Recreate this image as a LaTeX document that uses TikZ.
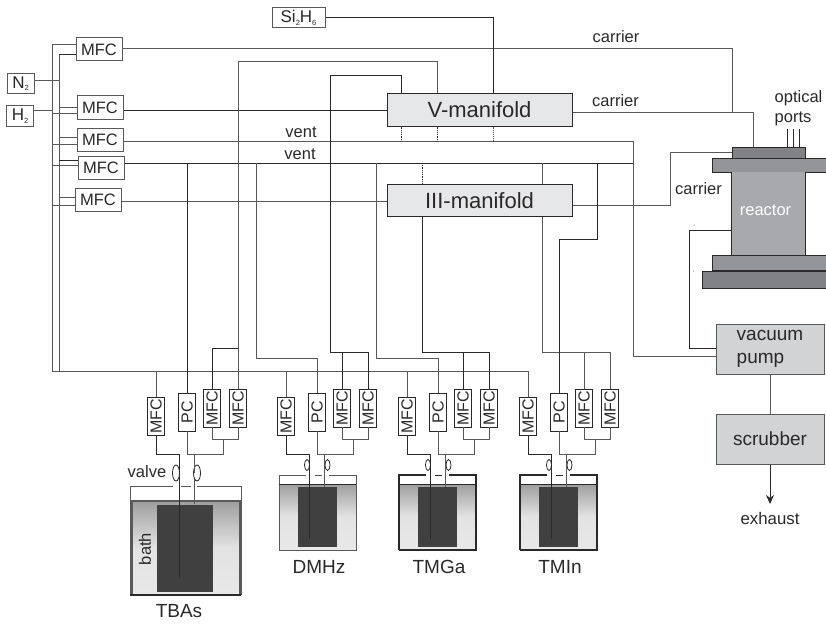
\documentclass[tikz,border=0pt]{standalone}
\usepackage{fontspec}
\setmainfont{Liberation Sans}
\usetikzlibrary{arrows.meta,shapes.geometric}
\definecolor{pipegray}{HTML}{58595B}
\definecolor{pipedark}{HTML}{2B2829}
\definecolor{mfdfill}{HTML}{E6E7E8}
\definecolor{pumpfill}{HTML}{D1D3D4}
\definecolor{flangefill}{HTML}{939598}
\definecolor{capfill}{HTML}{808285}
\definecolor{bodyfill}{HTML}{A7A9AC}
\definecolor{ampfill}{HTML}{404041}
\newcommand{\gassub}[1]{\raisebox{-2.5pt}{\fontsize{7.5}{7.5}\selectfont #1}}
\tikzset{
    pipe/.style={draw=pipegray,line width=0.95pt},
    pipedk/.style={draw=pipedark,line width=0.8pt},
    lab/.style={inner sep=0pt,font=\fontsize{16.5}{20}\selectfont,text=pipedark},
    srclab/.style={lab,font=\fontsize{19}{22}\selectfont},
    hbox/.style={draw=pipegray,line width=1pt,fill=white,inner sep=0pt,minimum width=46,minimum height=23,font=\fontsize{16.5}{20}\selectfont,text=pipedark},
    gasbox/.style={hbox,minimum width=27,minimum height=20,font=\fontsize{17}{20}\selectfont},
    vbox/.style={draw=pipedark,line width=0.9pt,fill=white,inner sep=0pt,minimum width=17,minimum height=38,font=\fontsize{16}{20}\selectfont,text=pipedark},
    manifold/.style={draw=pipedark,line width=1pt,fill=mfdfill,inner sep=0pt,minimum width=185,minimum height=32,font=\fontsize{22}{24}\selectfont,text=pipedark},
    plant/.style={draw=pipegray,line width=1pt,fill=pumpfill,inner sep=0pt,minimum width=108,minimum height=50,text=pipedark,align=left},
    flange/.style={draw=pipedark,line width=0.8pt,fill=flangefill,inner sep=0pt},
    valve/.style={ellipse,draw=pipedark,line width=0.8pt,fill=white,inner sep=0pt},
    lid/.style={draw=pipedark,line width=1pt},
    bath/.style={top color=black!38,bottom color=black!9,middle color=black!11},
    amp/.style={fill=ampfill},
}
\begin{document}
\begin{tikzpicture}[x=1pt,y=-1pt]
    \useasboundingbox (0,0) rectangle (826,623);

    \node[gasbox] (nitrogen) at (20.5,83.5) {N\gassub{2}};
    \node[gasbox] (hydrogen) at (20,116) {H\gassub{2}};
    \node[gasbox,minimum width=53] (silane) at (298.5,18) {Si\gassub{2}H\gassub{6}};
    \node[hbox] (mfcA) at (99,49.5) {MFC};
    \node[hbox] (mfcB) at (100,107.5) {MFC};
    \node[hbox] (mfcC) at (100,140) {MFC};
    \node[hbox] (mfcD) at (101,167.5) {MFC};
    \node[hbox] (mfcE) at (98,199.5) {MFC};
    \node[manifold] (vmf) at (479.5,110) {V-manifold};
    \node[manifold] (iiimf) at (479.5,200.5) {III-manifold};

    \coordinate (busA) at (52,44);
    \coordinate (busB) at (59,54);
    \coordinate (busEnd) at (528,371);
    \coordinate (ventA) at (633,141);
    \coordinate (ventB) at (633,163);

    % reactor stack
    \node[flange,minimum width=73,minimum height=11,fill=capfill] (cap) at (768.5,152.5) {};
    \node[flange,minimum width=114,minimum height=14] (topfl) at (769,165) {};
    \node[flange,minimum width=73,minimum height=83,fill=bodyfill,draw=none] (body) at (768.5,213.5) {};
    \draw[draw=pipedark,line width=0.8pt] (body.north west) -- (body.south west) (body.north east) -- (body.south east);
    \node[flange,minimum width=114,minimum height=15] (botfl) at (769,262.5) {};
    \node[flange,minimum width=124,minimum height=17,fill=capfill] (basefl) at (764,279.5) {};
    \node[lab,text=white] (reactor) at (765.5,210) {reactor};
    \node[plant,font=\fontsize{19}{23}\selectfont] (pump) at (770,349) {vacuum\\pump};
    \node[plant,font=\fontsize{19}{22}\selectfont] (scrub) at (770,439) {scrubber};
    \coordinate (exhaustend) at (770,504);
    \node[lab,font=\fontsize{16.8}{20}\selectfont] (exhaust) at (770,518) {exhaust};
    \node[lab,align=left] (ports) at (798.5,108) {optical\\ports};
    \draw[pipedk] (787,129) -- (787,0 |- cap.north);
    \draw[pipedk] (793,129) -- (793,0 |- cap.north);
    \draw[pipedk] (799,129) -- (799,0 |- cap.north);
    \fill[pipegray] (694,225) circle (0.5);
    \fill[pipegray] (693.5,271) circle (0.5);

    % source lines
    \draw[pipe] (busA) -- (52,371) -- (busEnd);
    \draw[pipe] (busB) -- (59,371);
    \draw[pipe] (busA) -- (mfcA.west |- busA);
    \draw[pipedk] (busB) -- (mfcA.west |- busB);
    \draw[pipe] (nitrogen.east |- 0,80) -- (59,80);
    \draw[pipe] (hydrogen.east |- 0,110) -- (52,110);
    \draw[pipe] (59,107) -- (mfcB.west |- 0,107);
    \draw[pipe] (52,113) -- (mfcB.west |- 0,113);
    \draw[pipe] (59,137) -- (mfcC.west |- 0,137);
    \draw[pipe] (52,144) -- (mfcC.west |- 0,144);
    \draw[pipedk] (59,160) -- (mfcD.west |- 0,160);
    \draw[pipe] (52,165) -- (mfcD.west |- 0,165);
    \draw[pipe] (59,197) -- (mfcE.west |- 0,197);
    \draw[pipe] (52,205) -- (mfcE.west |- 0,205);

    \draw[pipe] (mfcA.east |- 0,48) -- (732,48) -- (732,112);
    \draw[pipe] (vmf.east |- 0,112) -- (753,112) -- (753,0 |- cap.north);
    \draw[pipedk] (mfcB.east |- 0,110) -- (vmf.west |- 0,110);
    \draw[pipe] (mfcC.east |- 0,141) -- (ventA) -- (633,356) -- (pump.west |- 0,356);
    \draw[pipedk] (mfcD.east |- 0,163) -- (ventB);
    \draw[pipe] (mfcE.east |- 0,201) -- (iiimf.west |- 0,201);
    \draw[pipedk] (silane.east |- 0,17) -- (493,17) -- (493,0 |- vmf.north);
    \draw[pipe] (iiimf.east |- 0,205) -- (670,205) -- (670,152) -- (cap.west |- 0,152);
    \draw[pipedk] (body.west |- 0,230) -- (689,230) -- (689,348) -- (pump.west |- 0,348);
    \draw[pipe] (pump) -- (scrub);
    \draw[pipedk,-{Stealth[length=9pt,width=8pt]}] (scrub) -- (exhaustend);

    % vent and manifold dots
    \draw[pipedk,densely dotted] (401,0 |- vmf.south) -- (401,141);
    \draw[pipedk,densely dotted] (437,0 |- vmf.south) -- (437,141);
    \draw[pipe,densely dotted] (493,0 |- vmf.south) -- (493,141);
    \draw[pipedk,densely dotted] (422,163) -- (422,0 |- iiimf.north);

    \node[lab] (carrierA) at (616,37) {carrier};
    \node[lab] (carrierB) at (615.5,101) {carrier};
    \node[lab] (carrierC) at (698.5,189) {carrier};
    \node[lab] (ventlabA) at (301,132) {vent};
    \node[lab] (ventlabB) at (300,154) {vent};

    % TBAs bubbler
    \draw[lid,draw=pipegray] (130,595) -- (130,486) -- (173,486);
    \draw[lid,draw=pipegray] (181,486) -- (191,486);
    \draw[lid,draw=pipegray] (197,486) -- (241,486) -- (241,595);
    \shade[bath] (132,501) rectangle (240,594);
    \draw[pipegray,line width=2pt] (132,594) -- (132,501) -- (240,501) -- (240,594);
    \draw[pipedark,line width=1.2pt] (130,595) -- (241,595);
    \fill[amp] (157,505) rectangle (213,592);
    \node[lab] (valvelab) at (147,472) {valve};
    \node[lab,rotate=90] (bathlab) at (145,549) {bath};
    \node[srclab] (tbas) at (179,611) {TBAs};

    % other bubblers
    \foreach \name/\x/\edgecol/\edgew in {DMHz/279/pipegray/1,TMGa/399/pipedark/2,TMIn/520/pipedark/2}{
        \shade[bath] (\x+1,484) rectangle (\x+77,549);
        \draw[\edgecol,line width=\edgew pt] (\x,550) -- (\x,475) -- (\x+27,475);
        \draw[\edgecol,line width=1pt] (\x+36,475) -- (\x+43,475);
        \draw[\edgecol,line width=\edgew pt] (\x+50,475) -- (\x+77,475) -- (\x+77,550) -- (\x,550);
        \draw[pipedark,line width=1pt] (\x,484) -- (\x+77,484);
        \fill[amp] (\x+19,487) rectangle (\x+58,547);
        \node[srclab] (lab\name) at (\x+40,567) {\name};
    }

    % flow controllers above each bubbler
    \foreach \col/\x/\dip/\feed in {a/156/578/504,b/286/539/487,c/407/539/487,d/528/539/487}{
        \node[vbox] (mfc\col) at (\x,416) {\rotatebox{90}{MFC}};
        \node[vbox] (pc\col) at (\x+31,412) {\rotatebox{90}{PC}};
        \node[vbox] (mfc\col x) at (\x+56,408) {\rotatebox{90}{MFC}};
        \node[vbox] (mfc\col y) at (\x+82,408) {\rotatebox{90}{MFC}};
        \draw[pipe] (\x,371) -- (mfc\col);
        \draw[pipedk] (mfc\col) -- (\x,454) -- (\x+23,454) -- (\x+23,\dip);
        \draw[pipe] (pc\col) -- (\x+31,454) -- (\x+67,454) -- (\x+67,439);
        \draw[pipe] (\x+38,454) -- (\x+38,\feed);
        \draw[pipe] (mfc\col x) -- (\x+56,439) -- (\x+82,439) -- (mfc\col y);
    }
    \foreach \col/\x in {b/286,c/407,d/528}{
        \node[valve,minimum width=5,minimum height=11] (valve\col l) at (\x+21,465) {};
        \node[valve,minimum width=5,minimum height=11] (valve\col r) at (\x+41.5,465) {};
    }
    \node[valve,minimum width=7,minimum height=16] (valveal) at (176,473) {};
    \node[valve,minimum width=7,minimum height=16] (valvear) at (197,473) {};
    \draw[pipedk] (179,454) -- (179,473);
    \draw[pipe] (194,454) -- (194,473);
    \foreach \x in {309,430,551}{
        \draw[pipedk] (\x,454) -- (\x,470);
    }
    \foreach \x in {324,445,566}{
        \draw[pipe] (\x,454) -- (\x,470);
    }

    % lines from the vents and manifolds down to the controllers
    \draw[pipe] (238,61) -- (437,61) -- (437,0 |- vmf.north);
    \draw[pipe] (238,61) -- (mfcay);
    \draw[pipedk] (238,348) -- (212,348) -- (mfcax);
    \draw[pipedk] (187,163) -- (pca);
    \draw[pipe] (256,163) -- (256,358) -- (317,358) -- (pcb);
    \draw[pipedk] (401,0 |- vmf.north) -- (401,75) -- (330,75) -- (330,352) -- (368,352) -- (mfcby);
    \draw[pipedk] (342,352) -- (mfcbx);
    \draw[pipe] (376,163) -- (376,358) -- (438,358) -- (pcc);
    \draw[pipedk] (422,0 |- iiimf.south) -- (422,352) -- (489,352) -- (mfccy);
    \draw[pipedk] (463,352) -- (mfccx);
    \draw[pipe] (542,163) -- (542,0 |- iiimf.north);
    \draw[pipe] (542,0 |- iiimf.south) -- (542,352) -- (610,352) -- (mfcdy);
    \draw[pipe] (584,352) -- (mfcdx);
    \draw[pipedk] (597,163) -- (597,239) -- (559,239) -- (pcd);
\end{tikzpicture}
\end{document}
